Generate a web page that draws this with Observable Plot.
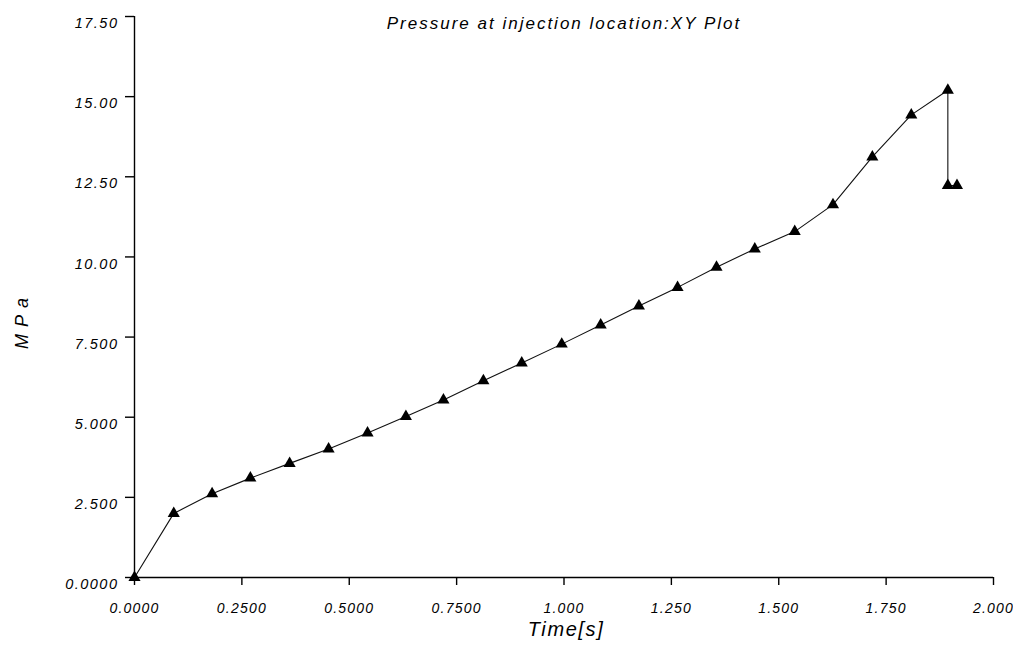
<!DOCTYPE html>
<html>
<head>
<meta charset="utf-8">
<script src="https://cdn.jsdelivr.net/npm/d3@7"></script>
<script src="https://cdn.jsdelivr.net/npm/@observablehq/plot@0.6"></script>
<style>
  html, body { margin: 0; padding: 0; background: #fff; }
  #chart svg { display: block; }
</style>
</head>
<body>
<div id="chart"></div>
<script>
const titleText = "Pressure at injection location:XY Plot";
const xLabelText = "Time[s]";
const yLabelText = "MPa";

const times = [0, 0.0914, 0.1807, 0.2698, 0.3612, 0.4519, 0.5426, 0.6319, 0.7193, 0.8123,
  0.9016, 0.9947, 1.0854, 1.1744, 1.2644, 1.3551, 1.4442, 1.5372, 1.6263, 1.7179,
  1.8086, 1.8937, 1.8937, 1.9150];
const pressures = [0, 2.00, 2.61, 3.10, 3.56, 4.01, 4.51, 5.02, 5.54, 6.14,
  6.69, 7.28, 7.88, 8.47, 9.05, 9.68, 10.25, 10.79, 11.63, 13.12,
  14.43, 15.20, 12.23, 12.23];

const xTicks = [0, 0.25, 0.5, 0.75, 1.0, 1.25, 1.5, 1.75, 2.0];
const xTickLabels = ["0.0000", "0.2500", "0.5000", "0.7500", "1.000", "1.250", "1.500", "1.750", "2.000"];
const yTicks = [0, 2.5, 5, 7.5, 10, 12.5, 15, 17.5];
const yTickLabels = ["0.0000", "2.500", "5.000", "7.500", "10.00", "12.50", "15.00", "17.50"];

const data = times.map((t, i) => ({t, p: pressures[i]}));
const font = "'Liberation Sans', Arial, sans-serif";

const chart = Plot.plot({
  width: 1013,
  height: 650,
  marginLeft: 134,
  marginRight: 20,
  marginTop: 16,
  marginBottom: 73,
  style: {fontFamily: font, background: "#fff", color: "#000"},
  x: {domain: [0, 2.0]},
  y: {domain: [0, 17.5]},
  marks: [
    Plot.ruleX([0], {stroke: "#000", strokeWidth: 1.4}),
    Plot.ruleY([0], {stroke: "#000", strokeWidth: 1.4}),
    Plot.axisX({
      ticks: xTicks,
      tickFormat: (d) => xTickLabels[xTicks.indexOf(d)],
      tickSize: 8,
      tickPadding: 18,
      fontSize: 14,
      fontStyle: "italic",
      stroke: "#000",
      strokeWidth: 1.4,
      label: null,
      className: "xt"
    }),
    Plot.axisY({
      ticks: yTicks,
      tickFormat: () => "",
      tickSize: 9,
      stroke: "#000",
      strokeWidth: 1.4,
      label: null
    }),
    Plot.axisY({
      ticks: yTicks,
      tickFormat: (d) => yTickLabels[yTicks.indexOf(d)],
      tickSize: 0,
      tickPadding: 16,
      fontSize: 14.5,
      fontStyle: "italic",
      dy: 7,
      label: null,
      className: "yt"
    }),
    Plot.line(data, {x: "t", y: "p", stroke: "#111", strokeWidth: 1.1}),
    Plot.dot(data, {x: "t", y: "p", symbol: "triangle", r: 4.5, fill: "#000", stroke: "none"}),
    Plot.text([titleText], {frameAnchor: "top", dy: 0, fontSize: 17, fontStyle: "italic", fill: "#000", text: d => d, className: "ttl"}),
    Plot.text([xLabelText], {frameAnchor: "bottom", dx: 2, dy: 58, fontSize: 20, fontStyle: "italic", fill: "#000", text: d => d, className: "xl"}),
    Plot.text([yLabelText], {frameAnchor: "left", textAnchor: "middle", dx: -112, dy: 23, rotate: -90, fontSize: 18, fontStyle: "italic", fill: "#000", text: d => d, className: "yl"})
  ]
});

d3.select(chart).selectAll(".xt text").style("letter-spacing", "1.2px");
d3.select(chart).selectAll(".yt text").style("letter-spacing", "1.5px");
d3.select(chart).selectAll(".ttl text").style("letter-spacing", "2px");
d3.select(chart).selectAll(".xl text").style("letter-spacing", "1.6px");
d3.select(chart).selectAll(".yl text").style("letter-spacing", "7px");
document.getElementById("chart").appendChild(chart);
</script>
</body>
</html>
